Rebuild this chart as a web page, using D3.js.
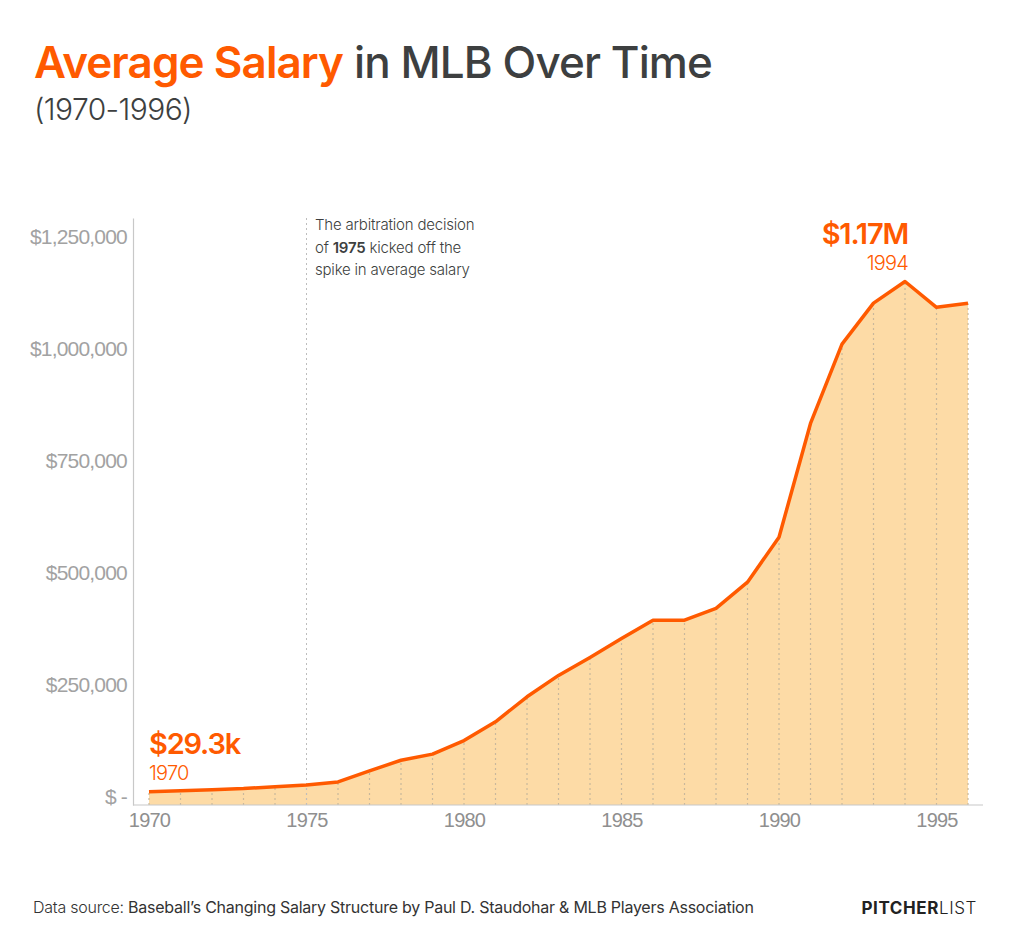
<!DOCTYPE html>
<html>
<head>
<meta charset="utf-8">
<script src="https://cdn.jsdelivr.net/npm/d3@7"></script>
<style>
  body { margin: 0; background: #fff; }
  svg { display: block; font-family: Inter, "Noto Sans", sans-serif; }
</style>
</head>
<body>
<div id="chart"></div>
<script>
// data
const years = [1970, 1971, 1972, 1973, 1974, 1975, 1976, 1977, 1978, 1979,
               1980, 1981, 1982, 1983, 1984, 1985, 1986, 1987, 1988, 1989,
               1990, 1991, 1992, 1993, 1994, 1995, 1996];
const salaries = [29303, 31543, 34092, 36566, 40839, 44676, 51501, 76066, 99876, 113558,
                  143756, 185651, 241497, 289194, 329408, 371571, 412520, 412454, 438729, 497254,
                  597537, 851492, 1028667, 1120000, 1168263, 1110766, 1119981];
const yTicks = [0, 250000, 500000, 750000, 1000000, 1250000];
const xTicks = [1970, 1975, 1980, 1985, 1990, 1995];
const noteLines = [["The arbitration decision"], ["of ", "1975", " kicked off the"], ["spike in average salary"]];

const data = years.map((y, i) => ({ year: y, value: salaries[i] }));

const W = 1016, H = 947;
const orange = "#ff5a00";

const svg = d3.select("#chart").append("svg")
    .attr("width", W).attr("height", H);

const x = d3.scaleLinear().domain([1970, 1996]).range([149, 968]);
const y = d3.scaleLinear().domain([0, 1310000]).range([805, 218]);

// area + drop lines
svg.append("path")
    .datum(data)
    .attr("fill", "#fddba6")
    .attr("d", d3.area().x(d => x(d.year)).y0(y(0)).y1(d => y(d.value)));

svg.append("g").selectAll("line")
    .data(data)
    .join("line")
    .attr("x1", d => x(d.year)).attr("x2", d => x(d.year))
    .attr("y1", y(0)).attr("y2", d => y(d.value))
    .attr("stroke", "#c9b89c")
    .attr("stroke-width", 1.2)
    .attr("stroke-dasharray", "2,3");

// 1975 marker line
svg.append("line")
    .attr("x1", x(1975)).attr("x2", x(1975))
    .attr("y1", y(0)).attr("y2", 218)
    .attr("stroke", "#bdbdbd")
    .attr("stroke-width", 1)
    .attr("stroke-dasharray", "2,3");

svg.append("path")
    .datum(data)
    .attr("fill", "none")
    .attr("stroke", orange)
    .attr("stroke-width", 3.5)
    .attr("stroke-linejoin", "round")
    .attr("d", d3.line().x(d => x(d.year)).y(d => y(d.value)));

// axes
const yAxis = svg.append("g")
    .attr("transform", "translate(133,0)")
    .call(d3.axisLeft(y).tickValues(yTicks).tickSize(0).tickPadding(6)
        .tickFormat(v => v === 0 ? "$ -" : "$" + d3.format(",")(v)));
yAxis.select(".domain").attr("stroke", "#c8c8c8").attr("stroke-width", 1.2);
yAxis.selectAll("text")
    .attr("dy", "-0.05em")
    .attr("font-size", 21).attr("font-weight", 300)
    .attr("fill", "#a2a2a2").attr("letter-spacing", "-0.8");

svg.append("line")
    .attr("x1", 133).attr("x2", 983)
    .attr("y1", y(0)).attr("y2", y(0))
    .attr("stroke", "#c8c8c8").attr("stroke-width", 1.2);

const xAxis = svg.append("g")
    .attr("transform", `translate(0,${y(0)})`)
    .call(d3.axisBottom(x).tickValues(xTicks).tickSize(0).tickPadding(8).tickFormat(d3.format("d")));
xAxis.select(".domain").remove();
xAxis.selectAll("text")
    .attr("font-size", 20).attr("font-weight", 300)
    .attr("fill", "#8f8f8f").attr("letter-spacing", "-0.8");

// title
const title = svg.append("text")
    .attr("x", 34).attr("y", 78)
    .attr("font-size", 44).attr("letter-spacing", "-0.9");
title.append("tspan").attr("fill", orange).attr("font-weight", 600).text("Average Salary");
title.append("tspan").attr("fill", "#3d3f40").attr("font-weight", 500).text(" in MLB Over Time");

svg.append("text")
    .attr("x", 34).attr("y", 120)
    .attr("font-size", 30).attr("font-weight", 300)
    .attr("fill", "#3d3f40").attr("letter-spacing", "-0.6")
    .text("(1970-1996)");

// annotation
const note = svg.append("text")
    .attr("x", 315).attr("y", 230)
    .attr("font-size", 15).attr("fill", "#3d3f40")
    .attr("font-weight", 300).attr("letter-spacing", "-0.2");
noteLines.forEach((parts, i) => {
    parts.forEach((p, j) => {
        const t = note.append("tspan").text(p);
        if (j === 0) t.attr("x", 315).attr("dy", i === 0 ? 0 : 22.5);
        if (p === "1975") t.attr("font-weight", 600);
    });
});

// point labels
const first = data[0];
const peak = data.reduce((a, b) => (b.value > a.value ? b : a));

svg.append("text")
    .attr("x", x(first.year)).attr("y", 754)
    .attr("font-size", 29).attr("font-weight", 600)
    .attr("fill", orange).attr("letter-spacing", "-1.2")
    .text("$" + d3.format(".1f")(first.value / 1000) + "k");
svg.append("text")
    .attr("x", x(first.year)).attr("y", 780)
    .attr("font-size", 20).attr("font-weight", 300)
    .attr("fill", orange).attr("letter-spacing", "-0.8")
    .text(first.year);

svg.append("text")
    .attr("x", 908).attr("y", 244).attr("text-anchor", "end")
    .attr("font-size", 29).attr("font-weight", 600)
    .attr("fill", orange).attr("letter-spacing", "-1.2")
    .text("$" + d3.format(".2f")(peak.value / 1e6) + "M");
svg.append("text")
    .attr("x", 908).attr("y", 270).attr("text-anchor", "end")
    .attr("font-size", 20).attr("font-weight", 300)
    .attr("fill", orange).attr("letter-spacing", "-0.8")
    .text(peak.year);

// footer
const src = svg.append("text")
    .attr("x", 33).attr("y", 913)
    .attr("font-size", 16).attr("fill", "#333")
    .attr("letter-spacing", "-0.25");
src.append("tspan").attr("font-weight", 300).text("Data source: ");
src.append("tspan").attr("font-weight", 400)
    .text("Baseball\u2019s Changing Salary Structure by Paul D. Staudohar & MLB Players Association");

const brand = svg.append("text")
    .attr("x", 977).attr("y", 914).attr("text-anchor", "end")
    .attr("font-size", 17).attr("fill", "#222").attr("letter-spacing", "0.6");
brand.append("tspan").attr("font-weight", 700).text("PITCHER");
brand.append("tspan").attr("font-weight", 300).text("LIST");
</script>
</body>
</html>
